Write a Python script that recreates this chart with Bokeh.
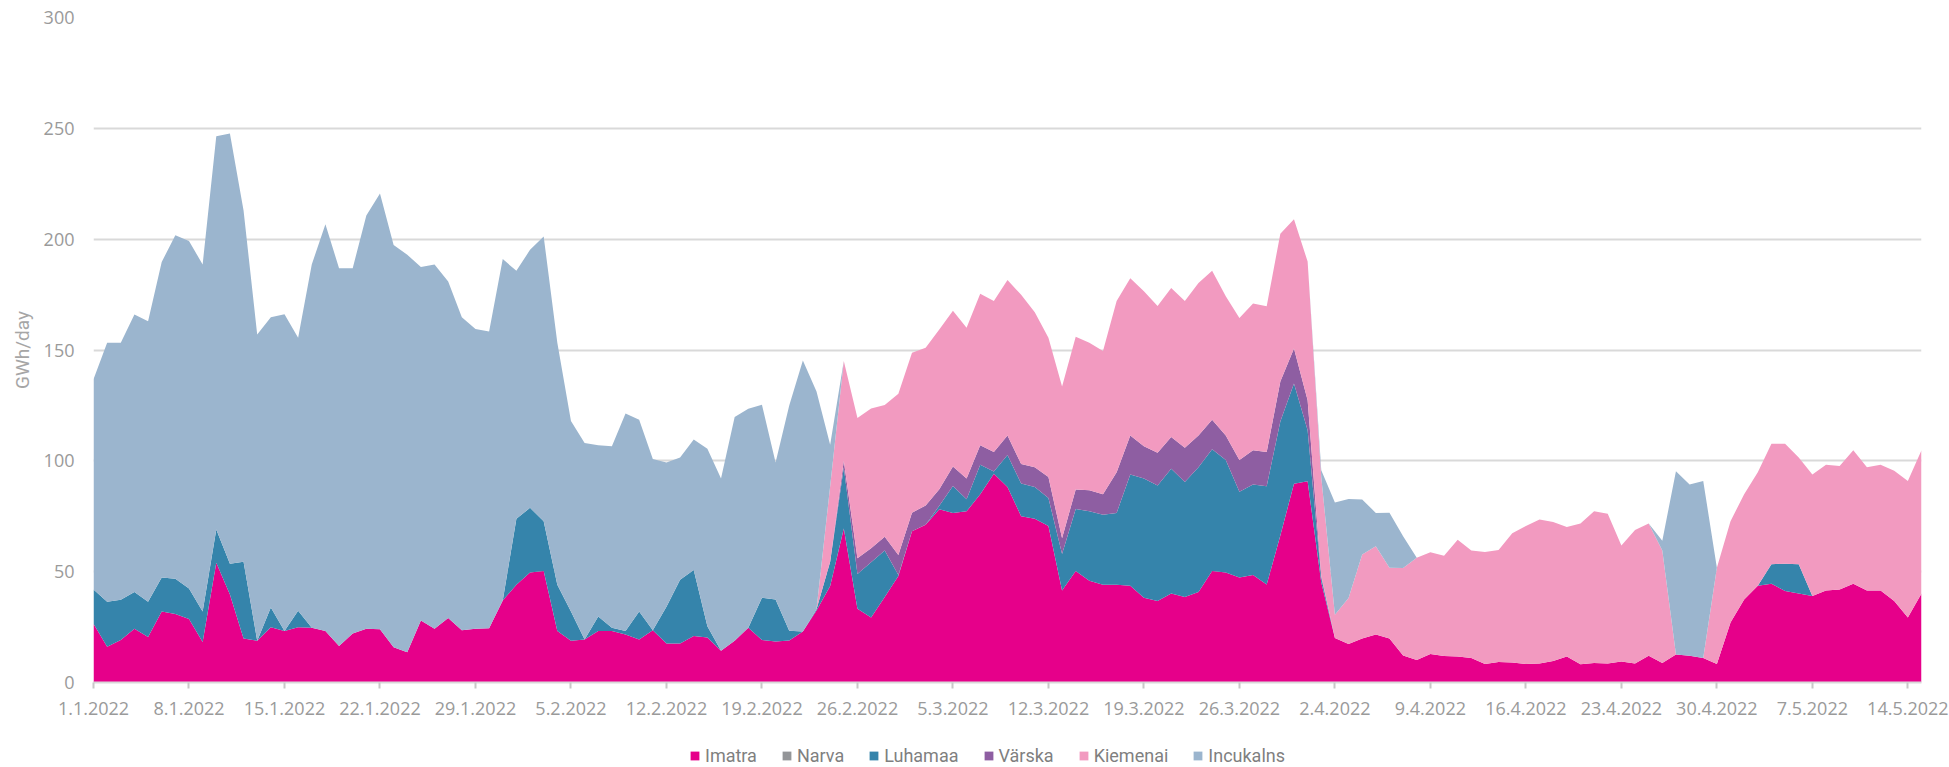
import pandas as pd
from bokeh.plotting import figure
from bokeh.layouts import column
from bokeh.models import ColumnDataSource, Range1d, FixedTicker, Legend, LegendItem
from bokeh.embed import file_html
from bokeh.resources import INLINE

# ---- data (GWh/day), daily 1.1.2022 .. 15.5.2022 ----
dates = pd.date_range("2022-01-01", periods=135)

imatra = [26.5, 16.1, 19.2, 24.3, 20.5, 32.0, 30.9, 28.7, 18.3, 54.0,
          39.7, 19.9, 18.8, 24.9, 23.2, 24.9, 24.7, 23.2, 16.5, 22.1,
          24.3, 24.0, 15.9, 13.7, 28.0, 24.3, 29.1, 23.6, 24.3, 24.5,
          37.0, 44.1, 49.6, 50.3, 23.2, 18.8, 19.4, 23.2, 23.2, 21.6,
          19.4, 23.6, 17.6, 17.6, 21.0, 20.3, 14.3, 18.8, 24.7, 19.2,
          18.5, 19.0, 23.0, 32.5, 43.5, 69.5, 33.3, 29.3, 38.6, 48.0,
          68.2, 71.2, 78.2, 76.5, 77.2, 84.9, 94.2, 88.2, 75.0, 73.9,
          70.6, 41.5, 50.3, 45.9, 44.1, 44.1, 43.7, 38.2, 36.8, 40.2,
          38.6, 40.8, 50.3, 49.6, 47.4, 48.5, 44.2, 66.3, 89.7, 90.8,
          45.1, 20.1, 17.4, 19.8, 21.7, 19.8, 12.2, 10.2, 12.9, 12.0,
          11.7, 11.0, 8.4, 9.3, 9.0, 8.4, 8.6, 9.7, 11.7, 8.2,
          8.8, 8.6, 9.5, 8.6, 12.1, 8.8, 12.6, 12.1, 11.0, 8.4,
          27.1, 37.5, 43.7, 44.6, 41.3, 40.2, 39.0, 41.5, 41.9, 44.6,
          41.5, 41.5, 36.8, 29.3, 40.2]

narva = [0.0] * 135

luhamaa = [15.4, 20.3, 18.1, 16.5, 15.9, 15.4, 15.9, 13.7, 13.7, 15.0,
           13.9, 34.6, 0.0, 8.9, 0.0, 7.5, 0.0, 0.0, 0.0, 0.0,
           0.0, 0.0, 0.0, 0.0, 0.0, 0.0, 0.0, 0.0, 0.0, 0.0,
           0.0, 29.8, 29.2, 22.5, 20.9, 13.2, 0.0, 6.6, 1.5, 1.6,
           12.6, 0.0, 16.6, 28.7, 29.7, 5.1, 0.0, 0.0, 0.0, 19.0,
           19.0, 4.4, 0.0, 0.5, 11.0, 27.5, 15.6, 25.0, 21.0, 0.5,
           0.0, 0.0, 1.5, 12.2, 5.5, 13.3, 1.0, 14.4, 14.8, 14.3,
           12.6, 16.5, 28.0, 31.3, 31.6, 32.4, 50.1, 53.8, 52.1, 56.2,
           51.8, 56.3, 54.9, 50.8, 38.6, 40.8, 44.3, 51.5, 45.2, 23.0,
           2.0, 0.0, 0.0, 0.0, 0.0, 0.0, 0.0, 0.0, 0.0, 0.0,
           0.0, 0.0, 0.0, 0.0, 0.0, 0.0, 0.0, 0.0, 0.0, 0.0,
           0.0, 0.0, 0.0, 0.0, 0.0, 0.0, 0.0, 0.0, 0.0, 0.0,
           0.0, 0.0, 0.0, 8.8, 12.3, 13.2, 0.0, 0.0, 0.0, 0.0,
           0.0, 0.0, 0.0, 0.0, 0.0]

varska = [0.0] * 55 + [
           3.0, 7.1, 6.3, 6.2, 9.0, 8.4, 8.7, 7.5, 8.8, 9.3,
           8.8, 8.8, 8.8, 8.8, 8.9, 9.5, 7.1, 8.8, 9.5, 9.2,
           18.4, 17.6, 14.6, 14.8, 14.3, 15.5, 14.3, 13.3, 11.0, 14.4,
           15.5, 15.5, 18.0, 15.8, 13.5, 1.0] + [0.0] * 44

kiemenai = [0.0] * 54 + [
            34.0, 45.0, 63.3, 63.0, 59.4, 72.8, 72.2, 71.1, 72.1, 70.2,
            68.0, 68.4, 68.1, 70.2, 76.3, 69.9, 62.8, 68.4, 68.9, 66.6,
            64.7, 77.2, 71.0, 69.9, 66.2, 67.3, 66.2, 68.8, 67.2, 62.9,
            64.0, 66.2, 65.7, 66.7, 58.3, 62.6, 44.6, 10.5, 20.7, 38.0,
            39.8, 32.0, 39.5, 46.1, 45.9, 45.2, 52.7, 48.6, 50.5, 50.5,
            58.3, 62.2, 64.9, 62.7, 58.5, 63.5, 68.4, 67.5, 52.3, 60.2,
            59.6, 50.8, 0.0, 0.0, 0.0, 43.4, 45.7, 47.4, 51.2, 54.3,
            54.1, 48.1, 54.8, 56.7, 55.8, 60.2, 55.6, 56.7, 58.7, 61.6,
            64.6]

incukalns = [94.9, 116.9, 116.0, 125.2, 126.6, 142.3, 155.0, 156.8, 156.6, 177.4,
             194.1, 158.4, 138.2, 131.0, 142.9, 123.1, 163.9, 183.5, 170.4, 164.8,
             186.4, 196.6, 181.5, 179.3, 159.5, 164.3, 151.8, 141.2, 135.2, 133.9,
             154.0, 111.8, 116.4, 128.4, 109.2, 86.0, 88.7, 77.2, 81.9, 98.1,
             86.5, 77.2, 65.1, 55.2, 58.9, 80.0, 77.7, 101.0, 98.8, 87.1,
             61.7, 101.6, 122.3, 98.3, 18.8, 0.0, 0.0, 0.0, 0.0, 0.0,
             0.0, 0.0, 0.0, 0.0, 0.0, 0.0, 0.0, 0.0, 0.0, 0.0,
             0.0, 0.0, 0.0, 0.0, 0.0, 0.0, 0.0, 0.0, 0.0, 0.0,
             0.0, 0.0, 0.0, 0.0, 0.0, 0.0, 0.0, 0.0, 0.0, 0.0,
             3.0, 50.6, 44.7, 24.8, 15.0, 24.8, 14.3, 0.0, 0.0, 0.0,
             0.0, 0.0, 0.0, 0.0, 0.0, 0.0, 0.0, 0.0, 0.0, 0.0,
             0.0, 0.0, 0.0, 0.0, 0.0, 4.4, 82.7, 77.2, 79.9, 0.0,
             0.0, 0.0, 0.0, 0.0, 0.0, 0.0, 0.0, 0.0, 0.0, 0.0,
             0.0, 0.0, 0.0, 0.0, 0.0]

series_names = ["Imatra", "Narva", "Luhamaa", "Värska", "Kiemenai", "Incukalns"]
series_colors = ["#E6008A", "#939598", "#3584AB", "#8E5EA2", "#F29AC0", "#9BB5CE"]

tick_days = list(range(0, 134, 7))
tick_labels = ["1.1.2022", "8.1.2022", "15.1.2022", "22.1.2022", "29.1.2022",
               "5.2.2022", "12.2.2022", "19.2.2022", "26.2.2022", "5.3.2022",
               "12.3.2022", "19.3.2022", "26.3.2022", "2.4.2022", "9.4.2022",
               "16.4.2022", "23.4.2022", "30.4.2022", "7.5.2022", "14.5.2022"]
y_ticks = [0, 50, 100, 150, 200, 250, 300]

# ---- source ----
keys = ["s0", "s1", "s2", "s3", "s4", "s5"]
data = {"x": list(range(len(dates)))}
for k, vals in zip(keys, [imatra, narva, luhamaa, varska, kiemenai, incukalns]):
    data[k] = vals
source = ColumnDataSource(data)

W = 1949
H_MAIN = 735
H_LEG = 767 - H_MAIN

p = figure(width=W, height=H_MAIN, output_backend="svg", toolbar_location=None,
           x_range=Range1d(0, len(dates) - 1), y_range=Range1d(0, 300),
           min_border_left=93, min_border_right=28, min_border_top=17,
           min_border_bottom=H_MAIN - 682)
p.outline_line_color = None
p.background_fill_color = "white"
p.border_fill_color = "white"

p.varea_stack(stackers=keys, x="x", color=series_colors, source=source)

# axes
tick_font = "Open Sans"
p.xaxis.ticker = FixedTicker(ticks=tick_days)
p.xaxis.major_label_overrides = {d: l for d, l in zip(tick_days, tick_labels)}
p.xaxis.axis_line_color = "#D9D9D9"
p.xaxis.axis_line_width = 2
p.xaxis.major_tick_line_color = "#C8C8C8"
p.xaxis.major_tick_line_width = 2
p.xaxis.major_tick_out = 6
p.xaxis.major_tick_in = 0
p.xaxis.minor_tick_line_color = None
p.xaxis.major_label_standoff = 13
p.xaxis.major_label_text_font = tick_font
p.xaxis.major_label_text_font_size = "18px"
p.xaxis.major_label_text_color = "#9A9A9A"

p.yaxis.ticker = FixedTicker(ticks=y_ticks)
p.yaxis.axis_line_color = None
p.yaxis.major_tick_line_color = None
p.yaxis.minor_tick_line_color = None
p.yaxis.major_tick_out = 0
p.yaxis.major_tick_in = 0
p.yaxis.major_label_standoff = 19
p.yaxis.major_label_text_font = tick_font
p.yaxis.major_label_text_font_size = "18px"
p.yaxis.major_label_text_color = "#9A9A9A"
p.yaxis.axis_label = "GWh/day"
p.yaxis.axis_label_text_font = "Roboto"
p.yaxis.axis_label_text_font_style = "normal"
p.yaxis.axis_label_text_font_size = "19px"
p.yaxis.axis_label_text_color = "#A6A6A6"
p.yaxis.axis_label_standoff = 7

p.xgrid.grid_line_color = None
p.ygrid.ticker = FixedTicker(ticks=y_ticks)
p.ygrid.grid_line_color = "#D9D9D9"
p.ygrid.grid_line_width = 2

# ---- legend strip below the chart (its frame is aligned with the chart's frame) ----
lg = figure(width=W, height=H_LEG, output_backend="svg", toolbar_location=None,
            x_range=Range1d(0, 1), y_range=Range1d(0, 1),
            x_axis_location=None, y_axis_location=None,
            min_border_left=0, min_border_right=0, min_border_top=0, min_border_bottom=0)
lg.outline_line_color = None
lg.grid.grid_line_color = None
lg.background_fill_color = "white"
lg.border_fill_color = "white"

items = []
for name, col in zip(series_names, series_colors):
    r = lg.varea(x=[0, 1], y1=[0, 0], y2=[0, 0], fill_color=col)
    items.append(LegendItem(label=name, renderers=[r]))

legend = Legend(
    items=items,
    orientation="horizontal",
    location=(596, 1),
    glyph_width=11, glyph_height=11,
    label_standoff=5, spacing=24,
    padding=0, margin=0,
    label_text_font="Roboto", label_text_font_size="18px", label_text_color="#7F7F7F",
    border_line_color=None, background_fill_alpha=0,
)
lg.add_layout(legend, "center")

layout = column(p, lg, spacing=0)
open("out.html", "w").write(file_html(layout, INLINE))
